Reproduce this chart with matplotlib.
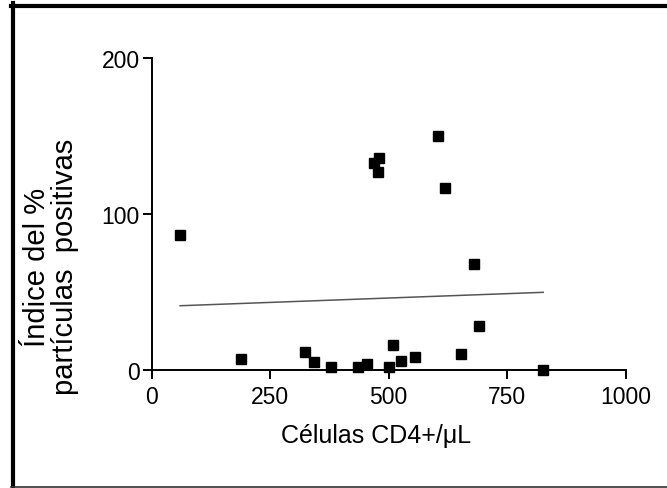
import matplotlib
matplotlib.use("Agg")
import matplotlib.pyplot as plt
from matplotlib.lines import Line2D

plt.rcParams["font.family"] = ["Liberation Sans", "DejaVu Sans"]

# CD4+ cells/uL vs index of % positive particles
cd4 = [60, 188, 323, 343, 378, 435, 454, 468, 479, 477, 501, 509, 527, 556,
       603, 619, 653, 679, 690, 826]
indice = [86.5, 7.1, 11.3, 4.9, 1.7, 1.7, 3.6, 132.7, 135.9, 126.7, 1.7, 16.2,
          6.0, 8.1, 150.0, 116.9, 10.3, 68.2, 28.0, 0.0]

# regression line
fit_x = [60, 826]
fit_y = [41.2, 49.8]

xticks = [0, 250, 500, 750, 1000]
yticks = [0, 100, 200]

fig = plt.figure(figsize=(6.67, 4.89), dpi=100)
ax = fig.add_axes([0.2274, 0.2413, 0.7107, 0.638])

ax.plot(fit_x, fit_y, color="#555555", lw=1.1)
ax.plot(cd4, indice, "s", color="black", markersize=7.5, clip_on=False, zorder=3)

ax.set_xlim(0, 1000)
ax.set_ylim(0, 200)
ax.set_xticks(xticks)
ax.set_yticks(yticks)
for s in ["top", "right"]:
    ax.spines[s].set_visible(False)
for s in ["left", "bottom"]:
    ax.spines[s].set_linewidth(1.4)
ax.tick_params(direction="out", length=6.5, width=1.4, labelsize=16.5)
ax.tick_params(axis="x", pad=4)
ax.tick_params(axis="y", pad=2)

ax.set_xlabel("Células CD4+/μL", fontsize=18, labelpad=11)
ax.xaxis.label.set_x(0.474)
fig.text(0.077, 1 - 267 / 489, "Índice del %\npartículas  positivas", rotation=90,
         ha="center", va="center", multialignment="center", fontsize=21,
         linespacing=1.0)

# outer frame
fig.add_artist(Line2D([13 / 667, 13 / 667], [0, 1 - 4 / 489], color="black", lw=3))
fig.add_artist(Line2D([11 / 667, 1], [1 - 6.5 / 489, 1 - 6.5 / 489], color="black", lw=3))
fig.add_artist(Line2D([11 / 667, 1], [1.5 / 489, 1.5 / 489], color="#333333", lw=1.2))

fig.savefig("out.png", dpi=100)
